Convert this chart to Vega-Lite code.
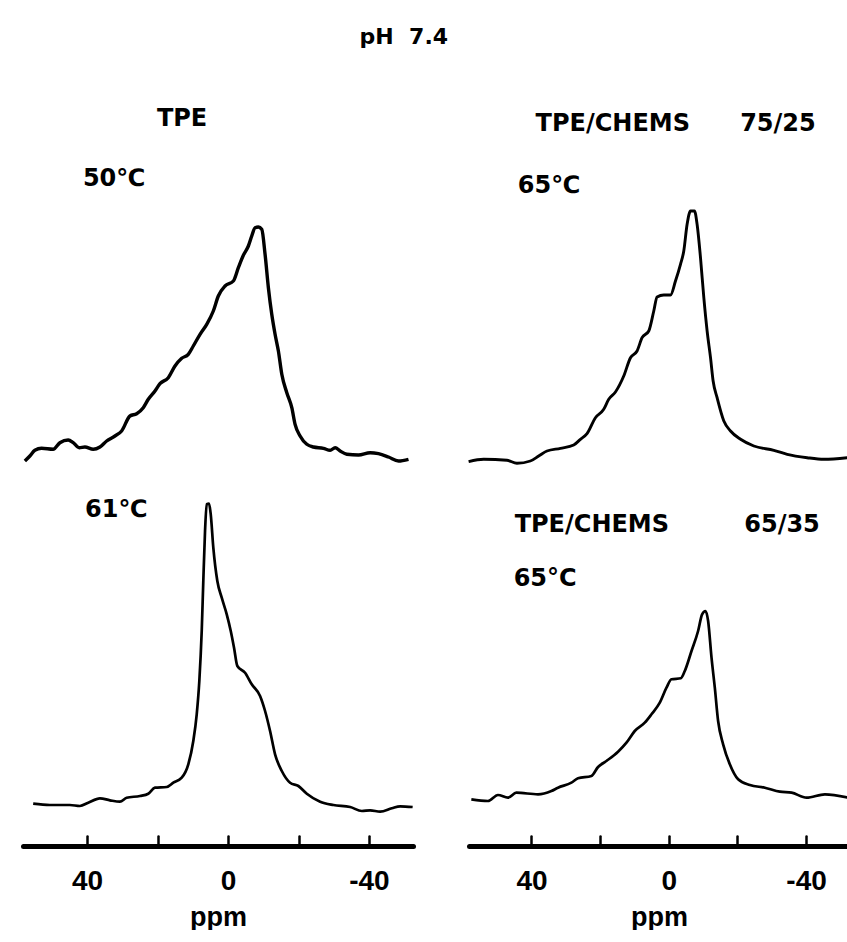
{
  "$schema": "https://vega.github.io/schema/vega-lite/v6.json",
  "background": "white",
  "padding": {"left": 18, "top": 26, "right": 0, "bottom": 0},
  "title": {"text": "pH\u00a0\u00a07.4", "fontSize": 22, "font": "DejaVu Sans", "fontWeight": "bold", "color": "black", "anchor": "middle", "dx": -32, "offset": 52},
  "config": {"view": {"stroke": null}},
  "datasets": {
    "spectra": [
      {"panel": "TL", "ppm": 57.67, "intensity": 10},
      {"panel": "TL", "ppm": 56.25, "intensity": 15},
      {"panel": "TL", "ppm": 54.83, "intensity": 20.7},
      {"panel": "TL", "ppm": 52.93, "intensity": 22.7},
      {"panel": "TL", "ppm": 49.63, "intensity": 21.7},
      {"panel": "TL", "ppm": 47.73, "intensity": 28.3},
      {"panel": "TL", "ppm": 45.37, "intensity": 31},
      {"panel": "TL", "ppm": 43.95, "intensity": 28.3},
      {"panel": "TL", "ppm": 42.24, "intensity": 23.3},
      {"panel": "TL", "ppm": 40.63, "intensity": 24},
      {"panel": "TL", "ppm": 38.27, "intensity": 21.7},
      {"panel": "TL", "ppm": 36.36, "intensity": 24},
      {"panel": "TL", "ppm": 34.46, "intensity": 30},
      {"panel": "TL", "ppm": 32.1, "intensity": 35},
      {"panel": "TL", "ppm": 30.2, "intensity": 40},
      {"panel": "TL", "ppm": 27.84, "intensity": 55},
      {"panel": "TL", "ppm": 25.94, "intensity": 57.3},
      {"panel": "TL", "ppm": 24.06, "intensity": 63.3},
      {"panel": "TL", "ppm": 22.64, "intensity": 71.7},
      {"panel": "TL", "ppm": 20.74, "intensity": 80},
      {"panel": "TL", "ppm": 19.32, "intensity": 87.3},
      {"panel": "TL", "ppm": 16.96, "intensity": 93.3},
      {"panel": "TL", "ppm": 15.06, "intensity": 105},
      {"panel": "TL", "ppm": 13.15, "intensity": 112.7},
      {"panel": "TL", "ppm": 11.28, "intensity": 116.7},
      {"panel": "TL", "ppm": 9.86, "intensity": 125},
      {"panel": "TL", "ppm": 7.95, "intensity": 136.7},
      {"panel": "TL", "ppm": 6.05, "intensity": 146.7},
      {"panel": "TL", "ppm": 4.18, "intensity": 160},
      {"panel": "TL", "ppm": 2.76, "intensity": 175},
      {"panel": "TL", "ppm": 0.85, "intensity": 185},
      {"panel": "TL", "ppm": -1.51, "intensity": 190},
      {"panel": "TL", "ppm": -2.93, "intensity": 203.3},
      {"panel": "TL", "ppm": -4.35, "intensity": 215.7},
      {"panel": "TL", "ppm": -5.77, "intensity": 225},
      {"panel": "TL", "ppm": -6.73, "intensity": 235},
      {"panel": "TL", "ppm": -7.67, "intensity": 243.3},
      {"panel": "TL", "ppm": -8.61, "intensity": 244},
      {"panel": "TL", "ppm": -9.57, "intensity": 241.7},
      {"panel": "TL", "ppm": -10.51, "intensity": 216.7},
      {"panel": "TL", "ppm": -11.45, "intensity": 183.3},
      {"panel": "TL", "ppm": -12.41, "intensity": 156.7},
      {"panel": "TL", "ppm": -13.35, "intensity": 136.7},
      {"panel": "TL", "ppm": -14.29, "intensity": 120},
      {"panel": "TL", "ppm": -15.26, "intensity": 96.7},
      {"panel": "TL", "ppm": -16.68, "intensity": 78.3},
      {"panel": "TL", "ppm": -18.1, "intensity": 63.3},
      {"panel": "TL", "ppm": -19.03, "intensity": 46.7},
      {"panel": "TL", "ppm": -20.45, "intensity": 35},
      {"panel": "TL", "ppm": -22.36, "intensity": 26.7},
      {"panel": "TL", "ppm": -24.23, "intensity": 24},
      {"panel": "TL", "ppm": -27.07, "intensity": 22.7},
      {"panel": "TL", "ppm": -28.98, "intensity": 20.7},
      {"panel": "TL", "ppm": -30.4, "intensity": 23.3},
      {"panel": "TL", "ppm": -31.82, "intensity": 20},
      {"panel": "TL", "ppm": -33.72, "intensity": 16.7},
      {"panel": "TL", "ppm": -37.02, "intensity": 16},
      {"panel": "TL", "ppm": -40.34, "intensity": 18.3},
      {"panel": "TL", "ppm": -42.7, "intensity": 17.3},
      {"panel": "TL", "ppm": -45.54, "intensity": 14},
      {"panel": "TL", "ppm": -48.38, "intensity": 10},
      {"panel": "TL", "ppm": -51.22, "intensity": 11.7},

      {"panel": "TR", "ppm": 58.02, "intensity": 9.3},
      {"panel": "TR", "ppm": 53.64, "intensity": 11.7},
      {"panel": "TR", "ppm": 46.85, "intensity": 10.7},
      {"panel": "TR", "ppm": 43.94, "intensity": 7.7},
      {"panel": "TR", "ppm": 40.03, "intensity": 10},
      {"panel": "TR", "ppm": 37.61, "intensity": 15},
      {"panel": "TR", "ppm": 35.19, "intensity": 20},
      {"panel": "TR", "ppm": 31.28, "intensity": 22.7},
      {"panel": "TR", "ppm": 27.41, "intensity": 26},
      {"panel": "TR", "ppm": 25.45, "intensity": 31.7},
      {"panel": "TR", "ppm": 23.53, "intensity": 37.3},
      {"panel": "TR", "ppm": 21.08, "intensity": 53.3},
      {"panel": "TR", "ppm": 18.66, "intensity": 61.7},
      {"panel": "TR", "ppm": 17.2, "intensity": 71.7},
      {"panel": "TR", "ppm": 15.25, "intensity": 79},
      {"panel": "TR", "ppm": 12.83, "intensity": 95},
      {"panel": "TR", "ppm": 10.87, "intensity": 113.3},
      {"panel": "TR", "ppm": 8.95, "intensity": 120},
      {"panel": "TR", "ppm": 7.49, "intensity": 133.3},
      {"panel": "TR", "ppm": 5.54, "intensity": 140},
      {"panel": "TR", "ppm": 4.08, "intensity": 160},
      {"panel": "TR", "ppm": 3.12, "intensity": 174},
      {"panel": "TR", "ppm": 1.17, "intensity": 176},
      {"panel": "TR", "ppm": -0.79, "intensity": 176},
      {"panel": "TR", "ppm": -2.24, "intensity": 190},
      {"panel": "TR", "ppm": -3.7, "intensity": 206.7},
      {"panel": "TR", "ppm": -4.66, "intensity": 220},
      {"panel": "TR", "ppm": -5.63, "intensity": 246.7},
      {"panel": "TR", "ppm": -6.62, "intensity": 260},
      {"panel": "TR", "ppm": -7.78, "intensity": 260},
      {"panel": "TR", "ppm": -8.54, "intensity": 246.7},
      {"panel": "TR", "ppm": -9.53, "intensity": 213.3},
      {"panel": "TR", "ppm": -10.5, "intensity": 173.3},
      {"panel": "TR", "ppm": -11.46, "intensity": 140},
      {"panel": "TR", "ppm": -12.45, "intensity": 113.3},
      {"panel": "TR", "ppm": -13.21, "intensity": 90},
      {"panel": "TR", "ppm": -14.37, "intensity": 73.3},
      {"panel": "TR", "ppm": -16.33, "intensity": 50},
      {"panel": "TR", "ppm": -18.28, "intensity": 40},
      {"panel": "TR", "ppm": -21.2, "intensity": 31.7},
      {"panel": "TR", "ppm": -25.07, "intensity": 25},
      {"panel": "TR", "ppm": -30.9, "intensity": 20.7},
      {"panel": "TR", "ppm": -34.78, "intensity": 16.7},
      {"panel": "TR", "ppm": -40.61, "intensity": 13.3},
      {"panel": "TR", "ppm": -45.48, "intensity": 11.7},
      {"panel": "TR", "ppm": -52.27, "intensity": 13.3},

      {"panel": "BL", "ppm": 55.31, "intensity": 42.3},
      {"panel": "BL", "ppm": 50.57, "intensity": 41},
      {"panel": "BL", "ppm": 44.89, "intensity": 41},
      {"panel": "BL", "ppm": 42.05, "intensity": 40},
      {"panel": "BL", "ppm": 39.69, "intensity": 43.3},
      {"panel": "BL", "ppm": 36.36, "intensity": 47.7},
      {"panel": "BL", "ppm": 33.52, "intensity": 45.7},
      {"panel": "BL", "ppm": 30.68, "intensity": 44.3},
      {"panel": "BL", "ppm": 28.78, "intensity": 48.3},
      {"panel": "BL", "ppm": 25, "intensity": 50},
      {"panel": "BL", "ppm": 22.64, "intensity": 52.3},
      {"panel": "BL", "ppm": 20.74, "intensity": 58.3},
      {"panel": "BL", "ppm": 17.41, "intensity": 59},
      {"panel": "BL", "ppm": 15.54, "intensity": 63.3},
      {"panel": "BL", "ppm": 13.15, "intensity": 68.3},
      {"panel": "BL", "ppm": 11.28, "intensity": 81.7},
      {"panel": "BL", "ppm": 9.86, "intensity": 105},
      {"panel": "BL", "ppm": 8.89, "intensity": 131.7},
      {"panel": "BL", "ppm": 8.15, "intensity": 165},
      {"panel": "BL", "ppm": 7.47, "intensity": 215},
      {"panel": "BL", "ppm": 7.02, "intensity": 265},
      {"panel": "BL", "ppm": 6.53, "intensity": 315},
      {"panel": "BL", "ppm": 6.05, "intensity": 341.7},
      {"panel": "BL", "ppm": 5.4, "intensity": 342.3},
      {"panel": "BL", "ppm": 4.91, "intensity": 331.7},
      {"panel": "BL", "ppm": 4.18, "intensity": 298.3},
      {"panel": "BL", "ppm": 3.04, "intensity": 265},
      {"panel": "BL", "ppm": 1.79, "intensity": 248.3},
      {"panel": "BL", "ppm": 0.37, "intensity": 231.7},
      {"panel": "BL", "ppm": -0.77, "intensity": 215},
      {"panel": "BL", "ppm": -1.7, "intensity": 198.3},
      {"panel": "BL", "ppm": -2.64, "intensity": 180},
      {"panel": "BL", "ppm": -4.83, "intensity": 173.3},
      {"panel": "BL", "ppm": -6.73, "intensity": 161.7},
      {"panel": "BL", "ppm": -9.09, "intensity": 150},
      {"panel": "BL", "ppm": -10.51, "intensity": 135},
      {"panel": "BL", "ppm": -11.93, "intensity": 115},
      {"panel": "BL", "ppm": -13.35, "intensity": 91.7},
      {"panel": "BL", "ppm": -15.26, "intensity": 75},
      {"panel": "BL", "ppm": -17.61, "intensity": 63.3},
      {"panel": "BL", "ppm": -19.97, "intensity": 60},
      {"panel": "BL", "ppm": -22.36, "intensity": 52.3},
      {"panel": "BL", "ppm": -26.14, "intensity": 44.3},
      {"panel": "BL", "ppm": -29.91, "intensity": 41},
      {"panel": "BL", "ppm": -34.66, "intensity": 39},
      {"panel": "BL", "ppm": -37.98, "intensity": 35},
      {"panel": "BL", "ppm": -40.34, "intensity": 35.7},
      {"panel": "BL", "ppm": -43.18, "intensity": 34.3},
      {"panel": "BL", "ppm": -46.5, "intensity": 37.7},
      {"panel": "BL", "ppm": -48.86, "intensity": 39.7},
      {"panel": "BL", "ppm": -52.4, "intensity": 39},

      {"panel": "BR", "ppm": 57.52, "intensity": 46.7},
      {"panel": "BR", "ppm": 52.68, "intensity": 45},
      {"panel": "BR", "ppm": 49.77, "intensity": 51},
      {"panel": "BR", "ppm": 46.85, "intensity": 48.3},
      {"panel": "BR", "ppm": 44.4, "intensity": 53.3},
      {"panel": "BR", "ppm": 38.1, "intensity": 51.7},
      {"panel": "BR", "ppm": 34.2, "intensity": 55},
      {"panel": "BR", "ppm": 32.27, "intensity": 58.3},
      {"panel": "BR", "ppm": 28.37, "intensity": 63.3},
      {"panel": "BR", "ppm": 26.44, "intensity": 67.7},
      {"panel": "BR", "ppm": 22.54, "intensity": 70},
      {"panel": "BR", "ppm": 20.61, "intensity": 79},
      {"panel": "BR", "ppm": 18.16, "intensity": 85},
      {"panel": "BR", "ppm": 14.78, "intensity": 94.3},
      {"panel": "BR", "ppm": 12.33, "intensity": 103.3},
      {"panel": "BR", "ppm": 9.91, "intensity": 115},
      {"panel": "BR", "ppm": 7, "intensity": 123.3},
      {"panel": "BR", "ppm": 5.04, "intensity": 131.7},
      {"panel": "BR", "ppm": 2.62, "intensity": 143.3},
      {"panel": "BR", "ppm": 0.67, "intensity": 158.3},
      {"panel": "BR", "ppm": -0.79, "intensity": 166.7},
      {"panel": "BR", "ppm": -3.5, "intensity": 167.7},
      {"panel": "BR", "ppm": -4.66, "intensity": 175},
      {"panel": "BR", "ppm": -6.62, "intensity": 195},
      {"panel": "BR", "ppm": -8.54, "intensity": 215},
      {"panel": "BR", "ppm": -9.71, "intensity": 231.7},
      {"panel": "BR", "ppm": -10.7, "intensity": 235},
      {"panel": "BR", "ppm": -11.46, "intensity": 225},
      {"panel": "BR", "ppm": -12.45, "intensity": 188.3},
      {"panel": "BR", "ppm": -13.41, "intensity": 158.3},
      {"panel": "BR", "ppm": -14.37, "intensity": 125},
      {"panel": "BR", "ppm": -15.83, "intensity": 101.7},
      {"panel": "BR", "ppm": -17.78, "intensity": 81.7},
      {"panel": "BR", "ppm": -20.2, "intensity": 66.7},
      {"panel": "BR", "ppm": -23.62, "intensity": 61},
      {"panel": "BR", "ppm": -27.99, "intensity": 58.3},
      {"panel": "BR", "ppm": -32.36, "intensity": 54.3},
      {"panel": "BR", "ppm": -35.77, "intensity": 53.3},
      {"panel": "BR", "ppm": -40.15, "intensity": 48.3},
      {"panel": "BR", "ppm": -45.48, "intensity": 51.7},
      {"panel": "BR", "ppm": -52.27, "intensity": 48.3}
    ],
    "labels": [
      {"panel": "TL", "ppm": 20.2, "intensity": 352, "text": "TPE"},
      {"panel": "TL", "ppm": 41.2, "intensity": 292, "text": "50\u2103"},
      {"panel": "TR", "ppm": 38.5, "intensity": 347, "text": "TPE/CHEMS\u00a0\u00a0\u00a0\u00a0\u00a0\u00a075/25"},
      {"panel": "TR", "ppm": 43.7, "intensity": 285, "text": "65\u2103"},
      {"panel": "BL", "ppm": 40.6, "intensity": 336, "text": "61\u2103"},
      {"panel": "BR", "ppm": 44.9, "intensity": 321, "text": "TPE/CHEMS\u00a0\u00a0\u00a0\u00a0\u00a0\u00a0\u00a0\u00a0\u00a065/35"},
      {"panel": "BR", "ppm": 45.2, "intensity": 267, "text": "65\u00b0C"}
    ]
  },
  "spacing": 20,
  "vconcat": [
    {
      "spacing": 46,
      "hconcat": [
        {
          "width": 390, "height": 370,
          "layer": [
            {
              "data": {"name": "spectra"},
              "transform": [{"filter": "datum.panel === 'TL'"}],
              "mark": {"type": "line", "color": "black", "strokeWidth": 3.4, "interpolate": "monotone"},
              "encoding": {
                "x": {"field": "ppm", "type": "quantitative", "scale": {"domain": [58.2, -52.5], "nice": false, "zero": false}, "axis": null},
                "y": {"field": "intensity", "type": "quantitative", "scale": {"domain": [0, 370], "nice": false, "zero": false}, "axis": null}
              }
            },
            {
              "data": {"name": "labels"},
              "transform": [{"filter": "datum.panel === 'TL'"}],
              "mark": {"type": "text", "align": "left", "baseline": "middle", "font": "DejaVu Sans", "fontWeight": "bold", "fontSize": 24, "color": "black"},
              "encoding": {
                "x": {"field": "ppm", "type": "quantitative"},
                "y": {"field": "intensity", "type": "quantitative"},
                "text": {"field": "text"}
              }
            }
          ]
        },
        {
          "width": 380, "height": 370,
          "layer": [
            {
              "data": {"name": "spectra"},
              "transform": [{"filter": "datum.panel === 'TR'"}],
              "mark": {"type": "line", "color": "black", "strokeWidth": 2.9, "interpolate": "monotone"},
              "encoding": {
                "x": {"field": "ppm", "type": "quantitative", "scale": {"domain": [58.2, -52.5], "nice": false, "zero": false}, "axis": null},
                "y": {"field": "intensity", "type": "quantitative", "scale": {"domain": [0, 370], "nice": false, "zero": false}, "axis": null}
              }
            },
            {
              "data": {"name": "labels"},
              "transform": [{"filter": "datum.panel === 'TR'"}],
              "mark": {"type": "text", "align": "left", "baseline": "middle", "font": "DejaVu Sans", "fontWeight": "bold", "fontSize": 24, "color": "black"},
              "encoding": {
                "x": {"field": "ppm", "type": "quantitative"},
                "y": {"field": "intensity", "type": "quantitative"},
                "text": {"field": "text"}
              }
            }
          ]
        }
      ]
    },
    {
      "spacing": 46,
      "hconcat": [
        {
          "width": 390, "height": 355,
          "layer": [
            {
              "data": {"name": "spectra"},
              "transform": [{"filter": "datum.panel === 'BL'"}],
              "mark": {"type": "line", "color": "black", "strokeWidth": 2.7, "interpolate": "monotone"},
              "encoding": {
                "x": {"field": "ppm", "type": "quantitative", "scale": {"domain": [58.2, -52.5], "nice": false, "zero": false},
                  "axis": {"values": [40, 20, 0, -20, -40], "labelExpr": "datum.value === 40 ? '40' : datum.value === 0 ? '0' : datum.value === -40 ? '-40' : ''", "title": "ppm", "grid": false, "domainWidth": 5, "domainColor": "black", "domainCap": "round", "tickSize": -10, "tickWidth": 2.5, "tickColor": "black", "tickCap": "round", "labelFont": "Liberation Sans", "labelFontWeight": "bold", "labelFontSize": 28, "labelColor": "black", "labelPadding": 31, "labelFlush": false, "titleFont": "Liberation Sans", "titleFontWeight": "bold", "titleFontSize": 27, "titleColor": "black", "titlePadding": 9}},
                "y": {"field": "intensity", "type": "quantitative", "scale": {"domain": [0, 355], "nice": false, "zero": false}, "axis": null}
              }
            },
            {
              "data": {"name": "labels"},
              "transform": [{"filter": "datum.panel === 'BL'"}],
              "mark": {"type": "text", "align": "left", "baseline": "middle", "font": "DejaVu Sans", "fontWeight": "bold", "fontSize": 24, "color": "black"},
              "encoding": {
                "x": {"field": "ppm", "type": "quantitative"},
                "y": {"field": "intensity", "type": "quantitative"},
                "text": {"field": "text"}
              }
            }
          ]
        },
        {
          "width": 380, "height": 355,
          "layer": [
            {
              "data": {"name": "spectra"},
              "transform": [{"filter": "datum.panel === 'BR'"}],
              "mark": {"type": "line", "color": "black", "strokeWidth": 2.7, "interpolate": "monotone"},
              "encoding": {
                "x": {"field": "ppm", "type": "quantitative", "scale": {"domain": [58.2, -52.5], "nice": false, "zero": false},
                  "axis": {"values": [40, 20, 0, -20, -40], "labelExpr": "datum.value === 40 ? '40' : datum.value === 0 ? '0' : datum.value === -40 ? '-40' : ''", "title": "ppm", "grid": false, "domainWidth": 5, "domainColor": "black", "domainCap": "round", "tickSize": -10, "tickWidth": 2.5, "tickColor": "black", "tickCap": "round", "labelFont": "Liberation Sans", "labelFontWeight": "bold", "labelFontSize": 28, "labelColor": "black", "labelPadding": 31, "labelFlush": false, "titleFont": "Liberation Sans", "titleFontWeight": "bold", "titleFontSize": 27, "titleColor": "black", "titlePadding": 9}},
                "y": {"field": "intensity", "type": "quantitative", "scale": {"domain": [0, 355], "nice": false, "zero": false}, "axis": null}
              }
            },
            {
              "data": {"name": "labels"},
              "transform": [{"filter": "datum.panel === 'BR'"}],
              "mark": {"type": "text", "align": "left", "baseline": "middle", "font": "DejaVu Sans", "fontWeight": "bold", "fontSize": 24, "color": "black"},
              "encoding": {
                "x": {"field": "ppm", "type": "quantitative"},
                "y": {"field": "intensity", "type": "quantitative"},
                "text": {"field": "text"}
              }
            }
          ]
        }
      ]
    }
  ]
}
